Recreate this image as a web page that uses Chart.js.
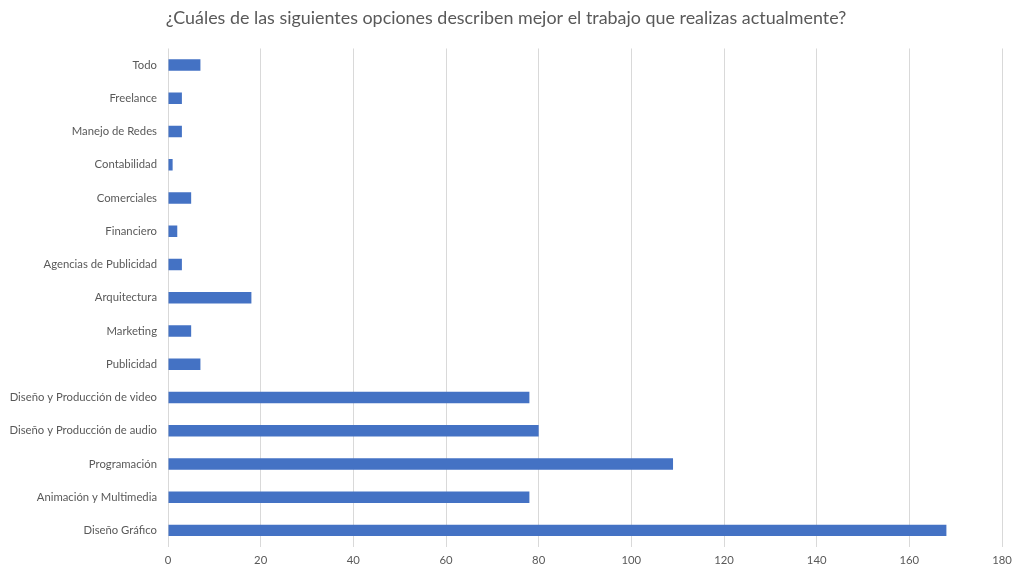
<!DOCTYPE html>
<html>
<head>
<meta charset="utf-8">
<script src="https://cdn.jsdelivr.net/npm/chart.js@4.4.0/dist/chart.umd.min.js"></script>
<style>
	html, body { margin: 0; padding: 0; background: #ffffff; }
	#wrap { width: 1012px; height: 569px; }
</style>
</head>
<body>
<div id="wrap"><canvas id="workchart" width="1012" height="569"></canvas></div>
<script>
const titleText = '¿Cuáles de las siguientes opciones describen mejor el trabajo que realizas actualmente?';
// Categories listed top to bottom
const categories = [
	'Todo',
	'Freelance',
	'Manejo de Redes',
	'Contabilidad',
	'Comerciales',
	'Financiero',
	'Agencias de Publicidad',
	'Arquitectura',
	'Marketing',
	'Publicidad',
	'Diseño y Producción de video',
	'Diseño y Producción de audio',
	'Programación',
	'Animación y Multimedia',
	'Diseño Gráfico'
];
const counts = [7, 3, 3, 1, 5, 2, 3, 18, 5, 7, 78, 80, 109, 78, 168];
const xMin = 0;
const xMax = 180;
const xStep = 20;

const textColor = '#595959';
const barColor = '#4472c4';
const gridColor = '#d9d9d9';
Chart.defaults.font.family = 'Lato';

var workchart = new Chart('workchart', {
	type: 'bar',
	data: {
		labels: categories,
		datasets: [{
			data: counts,
			backgroundColor: barColor,
			borderWidth: 0,
			barPercentage: 0.69,
			categoryPercentage: 0.5
		}]
	},
	options: {
		indexAxis: 'y',
		responsive: false,
		animation: false,
		layout: {
			padding: { left: 0, right: 0, top: 0, bottom: 0 }
		},
		plugins: {
			legend: { display: false },
			tooltip: { enabled: false },
			title: {
				display: true,
				text: titleText,
				color: textColor,
				font: { size: 17.9, weight: 'normal' },
				padding: { top: 7, bottom: 20 }
			}
		},
		scales: {
			x: {
				type: 'linear',
				min: xMin,
				max: xMax,
				ticks: {
					stepSize: xStep,
					color: textColor,
					font: { size: 11.3 },
					padding: 7
				},
				grid: {
					color: gridColor,
					drawTicks: false
				},
				border: { display: false },
				afterFit: function (scale) {
					scale.height = 22;
					// keep only a little room for the "180" label on the right
					scale.paddingRight = 10;
				}
			},
			y: {
				ticks: {
					color: textColor,
					font: { size: 11.3 },
					padding: 11,
					autoSkip: false
				},
				grid: { display: false, drawTicks: false },
				border: { display: false },
				afterFit: function (scale) { scale.width = 168; }
			}
		}
	}
});
</script>
</body>
</html>
